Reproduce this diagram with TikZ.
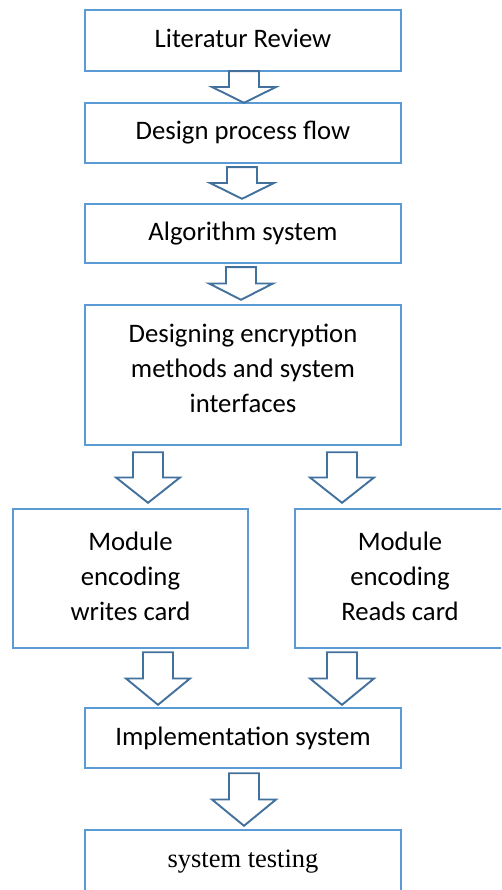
\documentclass[tikz,border=0pt]{standalone}
\usepackage{fontspec}
\setmainfont{Carlito}
\newfontfamily\tnrfont{Liberation Serif}
\usetikzlibrary{calc}
\definecolor{boxblue}{HTML}{5B9BD5}
\definecolor{arrblue}{HTML}{41719C}
\tikzset{
  stepbox/.style={draw=boxblue, line width=2.4pt, fill=white, rectangle, inner sep=0pt,
    align=center, font=\fontsize{26.7}{35}\selectfont},
  onebox/.style={stepbox, text height=20pt, text depth=6pt},
  barr/.style={draw=arrblue, line width=1.9pt, fill=white, line join=miter},
}
% #1 x, #2 from node, #3 to node, #4 gap below source, #5 gap above target
\newcommand\blockarrow[5]{%
  \draw[barr] let \p1=(#2.south), \p2=(#3.north),
     \p3=($(#2.south)+(0,#4)$), \p4=($(#3.north)+(0,-#5)$),
     \p5=($(\p3)!0.5!(\p4)$) in
   (#1pt-15pt,\y3) -- (#1pt-15pt,\y5) -- (#1pt-32pt,\y5) -- (#1pt,\y4)
   -- (#1pt+32pt,\y5) -- (#1pt+15pt,\y5) -- (#1pt+15pt,\y3) -- cycle;}
\begin{document}
\begin{tikzpicture}[x=1pt,y=-1pt]
\useasboundingbox (0,0) rectangle (501,890);
\clip (0,0) rectangle (501,890);
\fill[white] (0,0) rectangle (501,890);
\node[onebox, minimum width=316pt, minimum height=61pt] (b1) at (243,40.5) {Literatur Review};
\node[onebox, minimum width=316pt, minimum height=60pt] (b2) at (243,133) {Design process flow};
\node[onebox, minimum width=316pt, minimum height=59pt] (b3) at (243,233.5) {Algorithm system};
\node[stepbox, minimum width=316pt, minimum height=140pt] (b4) at (243,375)
  {Designing encryption\\methods and system\\interfaces\rule[-14pt]{0pt}{14pt}};
\node[stepbox, minimum width=235pt, minimum height=139pt] (bl) at (130.5,578.5)
  {Module\\encoding\\writes card\rule[-5pt]{0pt}{5pt}};
\node[stepbox, minimum width=210pt, minimum height=139pt] (br) at (400,578.5)
  {Module\\encoding\\Reads card\rule[-5pt]{0pt}{5pt}};
\node[onebox, minimum width=316pt, minimum height=60pt] (b5) at (243,738) {Implementation system};
\node[onebox, minimum width=316pt, minimum height=62pt, font=\tnrfont\fontsize{26.5}{35}\selectfont,
  text height=18pt] (b6) at (243,861) {system testing};
\blockarrow{244}{b1}{b2}{-1}{-1}
\blockarrow{242}{b2}{b3}{3}{4}
\blockarrow{241}{b3}{b4}{3}{4}
\blockarrow{148}{b4}{bl}{6}{5}
\blockarrow{342}{b4}{br}{6}{5}
\blockarrow{158}{bl}{b5}{3}{2}
\blockarrow{342}{br}{b5}{3}{2}
\blockarrow{244}{b5}{b6}{4}{3}
\end{tikzpicture}
\end{document}
